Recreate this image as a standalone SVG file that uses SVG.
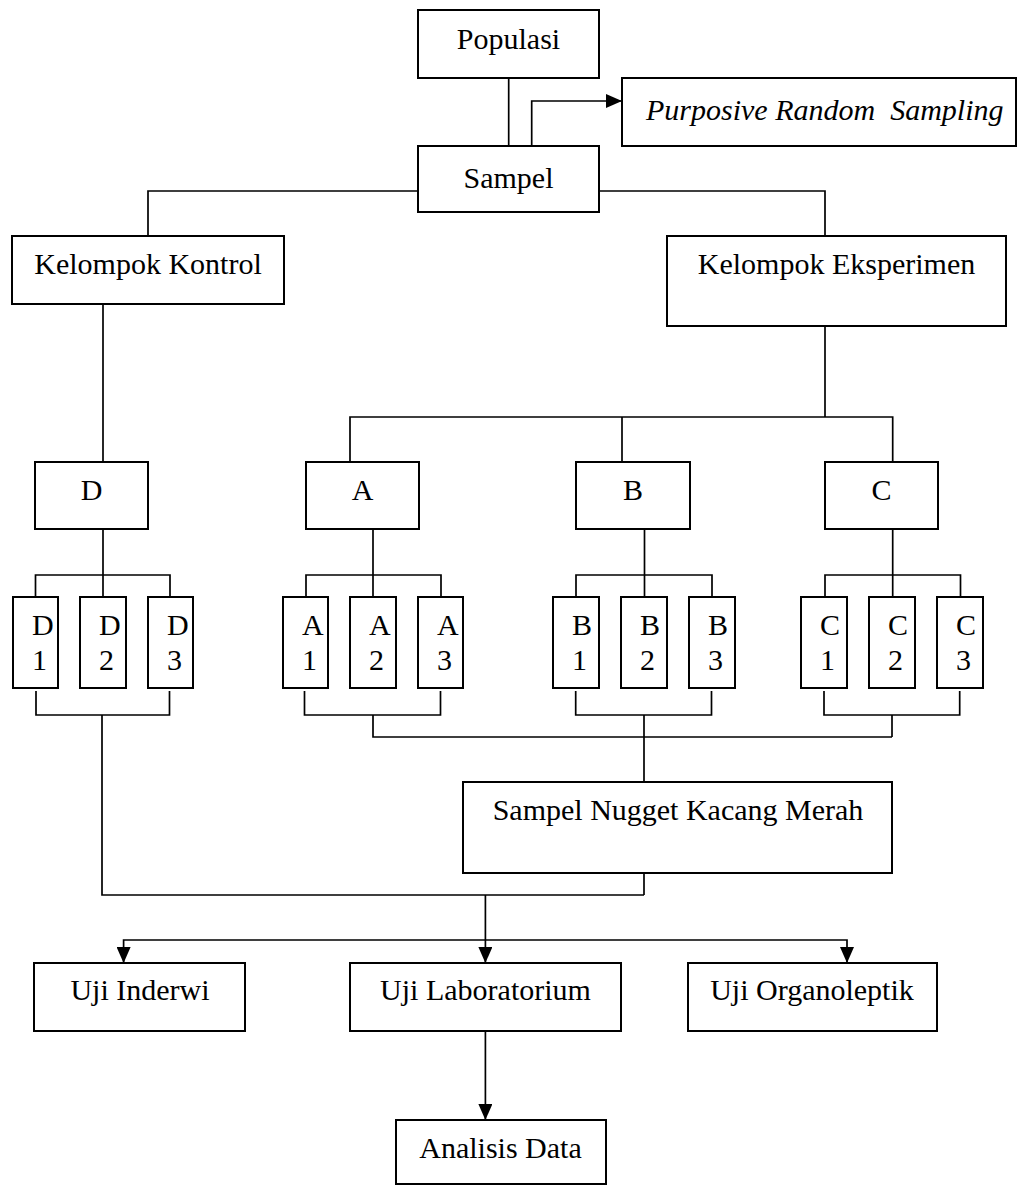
<svg xmlns="http://www.w3.org/2000/svg" width="1020" height="1186" viewBox="0 0 1020 1186">
<style>
rect{fill:#fff;stroke:#000;stroke-width:2}
text{font-family:"Liberation Serif","Times New Roman",serif;font-size:30px;fill:#000}
.c{text-anchor:middle}
.i{font-style:italic}
#connectors path{fill:none;stroke:#000;stroke-width:1.7}
</style>
<defs>
<marker id="ah" markerUnits="userSpaceOnUse" markerWidth="16" markerHeight="14" refX="16" refY="7" orient="auto">
<path d="M0,0 L16,7 L0,14 z" fill="#000"/>
</marker>
</defs>
<rect width="1020" height="1186" style="fill:#fff;stroke:none"/>
<g id="connectors">
<path d="M508.7 78 V146"/>
<path d="M531.7 146 V101 H622" marker-end="url(#ah)"/>
<path d="M418 191 H148 V236"/>
<path d="M599 191 H825 V236"/>
<path d="M103 304 V462"/>
<path d="M825 326 V417"/>
<path d="M350 462 V417 H892.7 V462"/>
<path d="M622 417 V462"/>
<path d="M103 529 V597"/>
<path d="M35.5 597 V575 H170 V597"/>
<path d="M373 529 V597"/>
<path d="M306 597 V575 H441 V597"/>
<path d="M644.5 529 V597"/>
<path d="M576 597 V575 H712 V597"/>
<path d="M892.7 529 V597"/>
<path d="M825 597 V575 H960.5 V597"/>
<path d="M36 691 V715 H169.5 V691"/>
<path d="M304.5 691 V715 H440.5 V691"/>
<path d="M575.7 691 V715 H711.5 V691"/>
<path d="M824 691 V715 H959.7 V691"/>
<path d="M102 715 V895 H644"/>
<path d="M373 715 V737 H892"/>
<path d="M892 715 V737"/>
<path d="M644 715 V782"/>
<path d="M644 873 V895"/>
<path d="M485.4 895 V963" marker-end="url(#ah)"/>
<path d="M485.4 940 H123.6 V963" marker-end="url(#ah)"/>
<path d="M485.4 940 H847 V963" marker-end="url(#ah)"/>
<path d="M485.4 1031 V1120" marker-end="url(#ah)"/>
</g>
<g id="populasi"><rect x="418" y="10" width="181" height="68"/><text class="c" x="508.5" y="49">Populasi</text></g>
<g id="purposive"><rect x="622" y="78" width="394" height="68"/><text class="i" x="646" y="120">Purposive Random&#160; Sampling</text></g>
<g id="sampel"><rect x="418" y="146" width="181" height="66"/><text class="c" x="508.5" y="188">Sampel</text></g>
<g id="kontrol"><rect x="12" y="236" width="272" height="68"/><text class="c" x="148" y="274">Kelompok Kontrol</text></g>
<g id="eksperimen"><rect x="667" y="236" width="339" height="90"/><text class="c" x="836.5" y="274">Kelompok Eksperimen</text></g>
<g id="D"><rect x="35" y="462" width="113" height="67"/><text class="c" x="91.5" y="500">D</text></g>
<g id="A"><rect x="306" y="462" width="113" height="67"/><text class="c" x="362.5" y="500">A</text></g>
<g id="B"><rect x="576" y="462" width="114" height="67"/><text class="c" x="633" y="500">B</text></g>
<g id="C"><rect x="825" y="462" width="113" height="67"/><text class="c" x="881.5" y="500">C</text></g>
<g id="D1"><rect x="13" y="597" width="45" height="91"/><text x="32" y="635">D</text><text x="32" y="670">1</text></g>
<g id="D2"><rect x="80" y="597" width="46" height="91"/><text x="99" y="635">D</text><text x="99" y="670">2</text></g>
<g id="D3"><rect x="148" y="597" width="45" height="91"/><text x="167" y="635">D</text><text x="167" y="670">3</text></g>
<g id="A1"><rect x="283" y="597" width="45" height="91"/><text x="302" y="635">A</text><text x="302" y="670">1</text></g>
<g id="A2"><rect x="350" y="597" width="46" height="91"/><text x="369" y="635">A</text><text x="369" y="670">2</text></g>
<g id="A3"><rect x="418" y="597" width="45" height="91"/><text x="437" y="635">A</text><text x="437" y="670">3</text></g>
<g id="B1"><rect x="553" y="597" width="46" height="91"/><text x="572" y="635">B</text><text x="572" y="670">1</text></g>
<g id="B2"><rect x="621" y="597" width="46" height="91"/><text x="640" y="635">B</text><text x="640" y="670">2</text></g>
<g id="B3"><rect x="689" y="597" width="46" height="91"/><text x="708" y="635">B</text><text x="708" y="670">3</text></g>
<g id="C1"><rect x="801" y="597" width="46" height="91"/><text x="820" y="635">C</text><text x="820" y="670">1</text></g>
<g id="C2"><rect x="869" y="597" width="46" height="91"/><text x="888" y="635">C</text><text x="888" y="670">2</text></g>
<g id="C3"><rect x="937" y="597" width="46" height="91"/><text x="956" y="635">C</text><text x="956" y="670">3</text></g>
<g id="nugget"><rect x="463" y="782" width="429" height="91"/><text class="c" x="678" y="820">Sampel Nugget Kacang Merah</text></g>
<g id="inderwi"><rect x="34" y="963" width="211" height="68"/><text class="c" x="140" y="1000">Uji Inderwi</text></g>
<g id="laboratorium"><rect x="350" y="963" width="271" height="68"/><text class="c" x="485.5" y="1000">Uji Laboratorium</text></g>
<g id="organoleptik"><rect x="688" y="963" width="249" height="68"/><text class="c" x="812" y="1000">Uji Organoleptik</text></g>
<g id="analisis"><rect x="396" y="1120" width="210" height="64"/><text class="c" x="500.5" y="1158">Analisis Data</text></g>
</svg>
